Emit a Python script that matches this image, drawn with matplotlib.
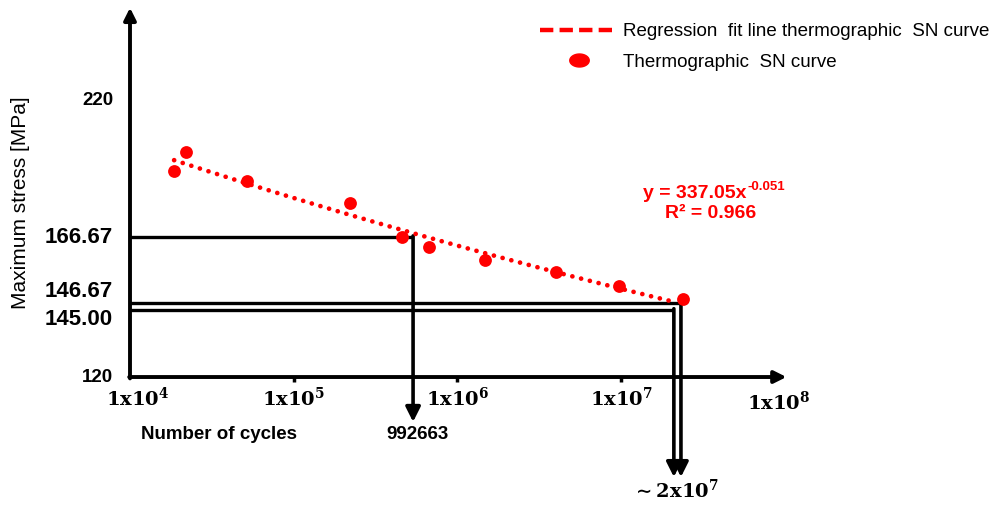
import matplotlib
matplotlib.use("Agg")
from matplotlib import pyplot as plt
from matplotlib.lines import Line2D
from matplotlib.path import Path
import numpy as np

# thermographic SN points (cycles, max stress MPa)
cycles = [1.86e4, 2.2e4, 5.2e4, 2.22e5, 4.56e5, 6.68e5, 1.47e6, 4.01e6, 9.7e6, 2.4e7]
stress = [194.5, 201.3, 190.9, 182.9, 170.7, 166.8, 162.4, 157.8, 152.7, 148.1]

xtick_vals = [1e4, 1e5, 1e6, 1e7, 1e8]
xtick_text = [r"$\mathbf{1x10^{4}}$", r"$\mathbf{1x10^{5}}$", r"$\mathbf{1x10^{6}}$",
              r"$\mathbf{1x10^{7}}$", r"$\mathbf{1x10^{8}}$"]
ytick_text = ["220", "166.67", "146.67", "145.00", "120"]
ytick_pos = [220, 170.5, 150.7, 140.6, 120]

# guide lines: (stress level, cycles where it turns down, arrow tip)
guide_stress = [170.5, 146.7, 144.2]
guide_cycles = [5.36e5, 2.32e7, 2.10e7]
guide_tip = [103.8, 83.9, 83.9]

plt.rcParams["font.family"] = ["Liberation Sans", "DejaVu Sans"]
plt.rcParams["mathtext.fontset"] = "custom"
plt.rcParams["mathtext.rm"] = "DejaVu Serif"
plt.rcParams["mathtext.bf"] = "DejaVu Serif:bold"

fig = plt.figure(figsize=(9.96, 5.05), dpi=100)
ax = fig.add_axes([0, 0, 1, 1])
ax.set_xscale("log")
ax.set_xlim(10**3.2059, 10**9.290)
ax.set_ylim(73.8, 256.1)
ax.axis("off")

red = "#ff0000"
arrow_kw = dict(arrowstyle="-|>", color="black", lw=2.8, shrinkA=0, shrinkB=0,
                mutation_scale=18)

# axes as arrows
ax.annotate("", xy=(1e4, 253.3), xytext=(1e4, 119.5), arrowprops=arrow_kw)
ax.annotate("", xy=(10**8.01, 120), xytext=(10**3.995, 120), arrowprops=arrow_kw)
ax.vlines(xtick_vals[1:4], 118.2, 120, color="black", lw=2.5)

# guides
for s, c, t in zip(guide_stress, guide_cycles, guide_tip):
    ax.plot([1e4, c], [s, s], color="black", lw=2.4, solid_capstyle="butt")
    ax.annotate("", xy=(c, t), xytext=(c, s + 0.45),
                arrowprops=dict(arrowstyle="-|>", color="black", lw=2.6,
                                shrinkA=0, shrinkB=0, mutation_scale=22))

# regression fit (power law, fitted in log-log)
b, loga = np.polyfit(np.log(cycles), np.log(stress), 1)
xf = np.logspace(np.log10(cycles[0]), np.log10(2.15e7), 200)
yf = np.exp(loga) * xf**b
ax.plot(xf, yf, color=red, lw=3.4, linestyle=(0, (0.01, 1.9)),
        dash_capstyle="round", zorder=3)
ax.scatter(cycles, stress, s=85, color=red, zorder=4, linewidths=0)

# tick labels
xlab_x = [1.12e4, 1e5, 1e6, 1e7, 9.2e7]
xlab_y = [112.2, 112.2, 112.2, 112.2, 110.8]
for x, y, t in zip(xlab_x, xlab_y, xtick_text):
    ax.text(x, y, t, ha="center", va="center", fontsize=14)
for y, t in zip(ytick_pos, ytick_text):
    big = t not in ("220", "120")
    ax.text(7.9e3, y, t, ha="right", va="center", fontweight="bold",
            fontsize=16 if big else 13.5)

ax.text(2.13e3, 182.8, "Maximum stress [MPa]", rotation=90, ha="center",
        va="center", fontsize=15)
ax.text(3.5e4, 99.1, "Number of cycles", ha="center", va="center",
        fontweight="bold", fontsize=13.5)
ax.text(5.74e5, 99.1, "992663", ha="center", va="center", fontweight="bold",
        fontsize=13.5)
ax.text(2.16e7, 79.2, r"$\mathbf{\sim 2x10^{7}}$", ha="center", va="center",
        fontsize=14)

# trendline equation
eq = ax.text(1.36e7, 186.4, "y = 337.05x", ha="left", va="center", color=red,
             fontsize=14, fontweight="bold")
ax.annotate("-0.051", xy=(1, 1), xycoords=eq, xytext=(0.5, -2),
            textcoords="offset points", ha="left", va="center", color=red,
            fontsize=9.5, fontweight="bold")
ax.text(3.54e7, 179.2, "R² = 0.966", ha="center", va="center", color=red,
        fontsize=14, fontweight="bold")

# ellipse marker for the legend
t = np.linspace(0, 2 * np.pi, 60)
ellipse = Path(np.column_stack([1.5 * np.cos(t), np.sin(t)]), closed=True)
handles = [Line2D([], [], color=red, lw=3.2, linestyle=(0, (3, 1.4))),
           Line2D([], [], color=red, marker=ellipse, markersize=14, linestyle="none")]
labels = ["Regression  fit line thermographic  SN curve", "Thermographic  SN curve"]
fig.legend(handles, labels, loc="upper left", bbox_to_anchor=(0.533, 0.973),
           frameon=False, fontsize=13.5, handlelength=4.1, labelspacing=0.72,
           borderpad=0, handletextpad=0.3)

fig.savefig("out.png", dpi=100)
